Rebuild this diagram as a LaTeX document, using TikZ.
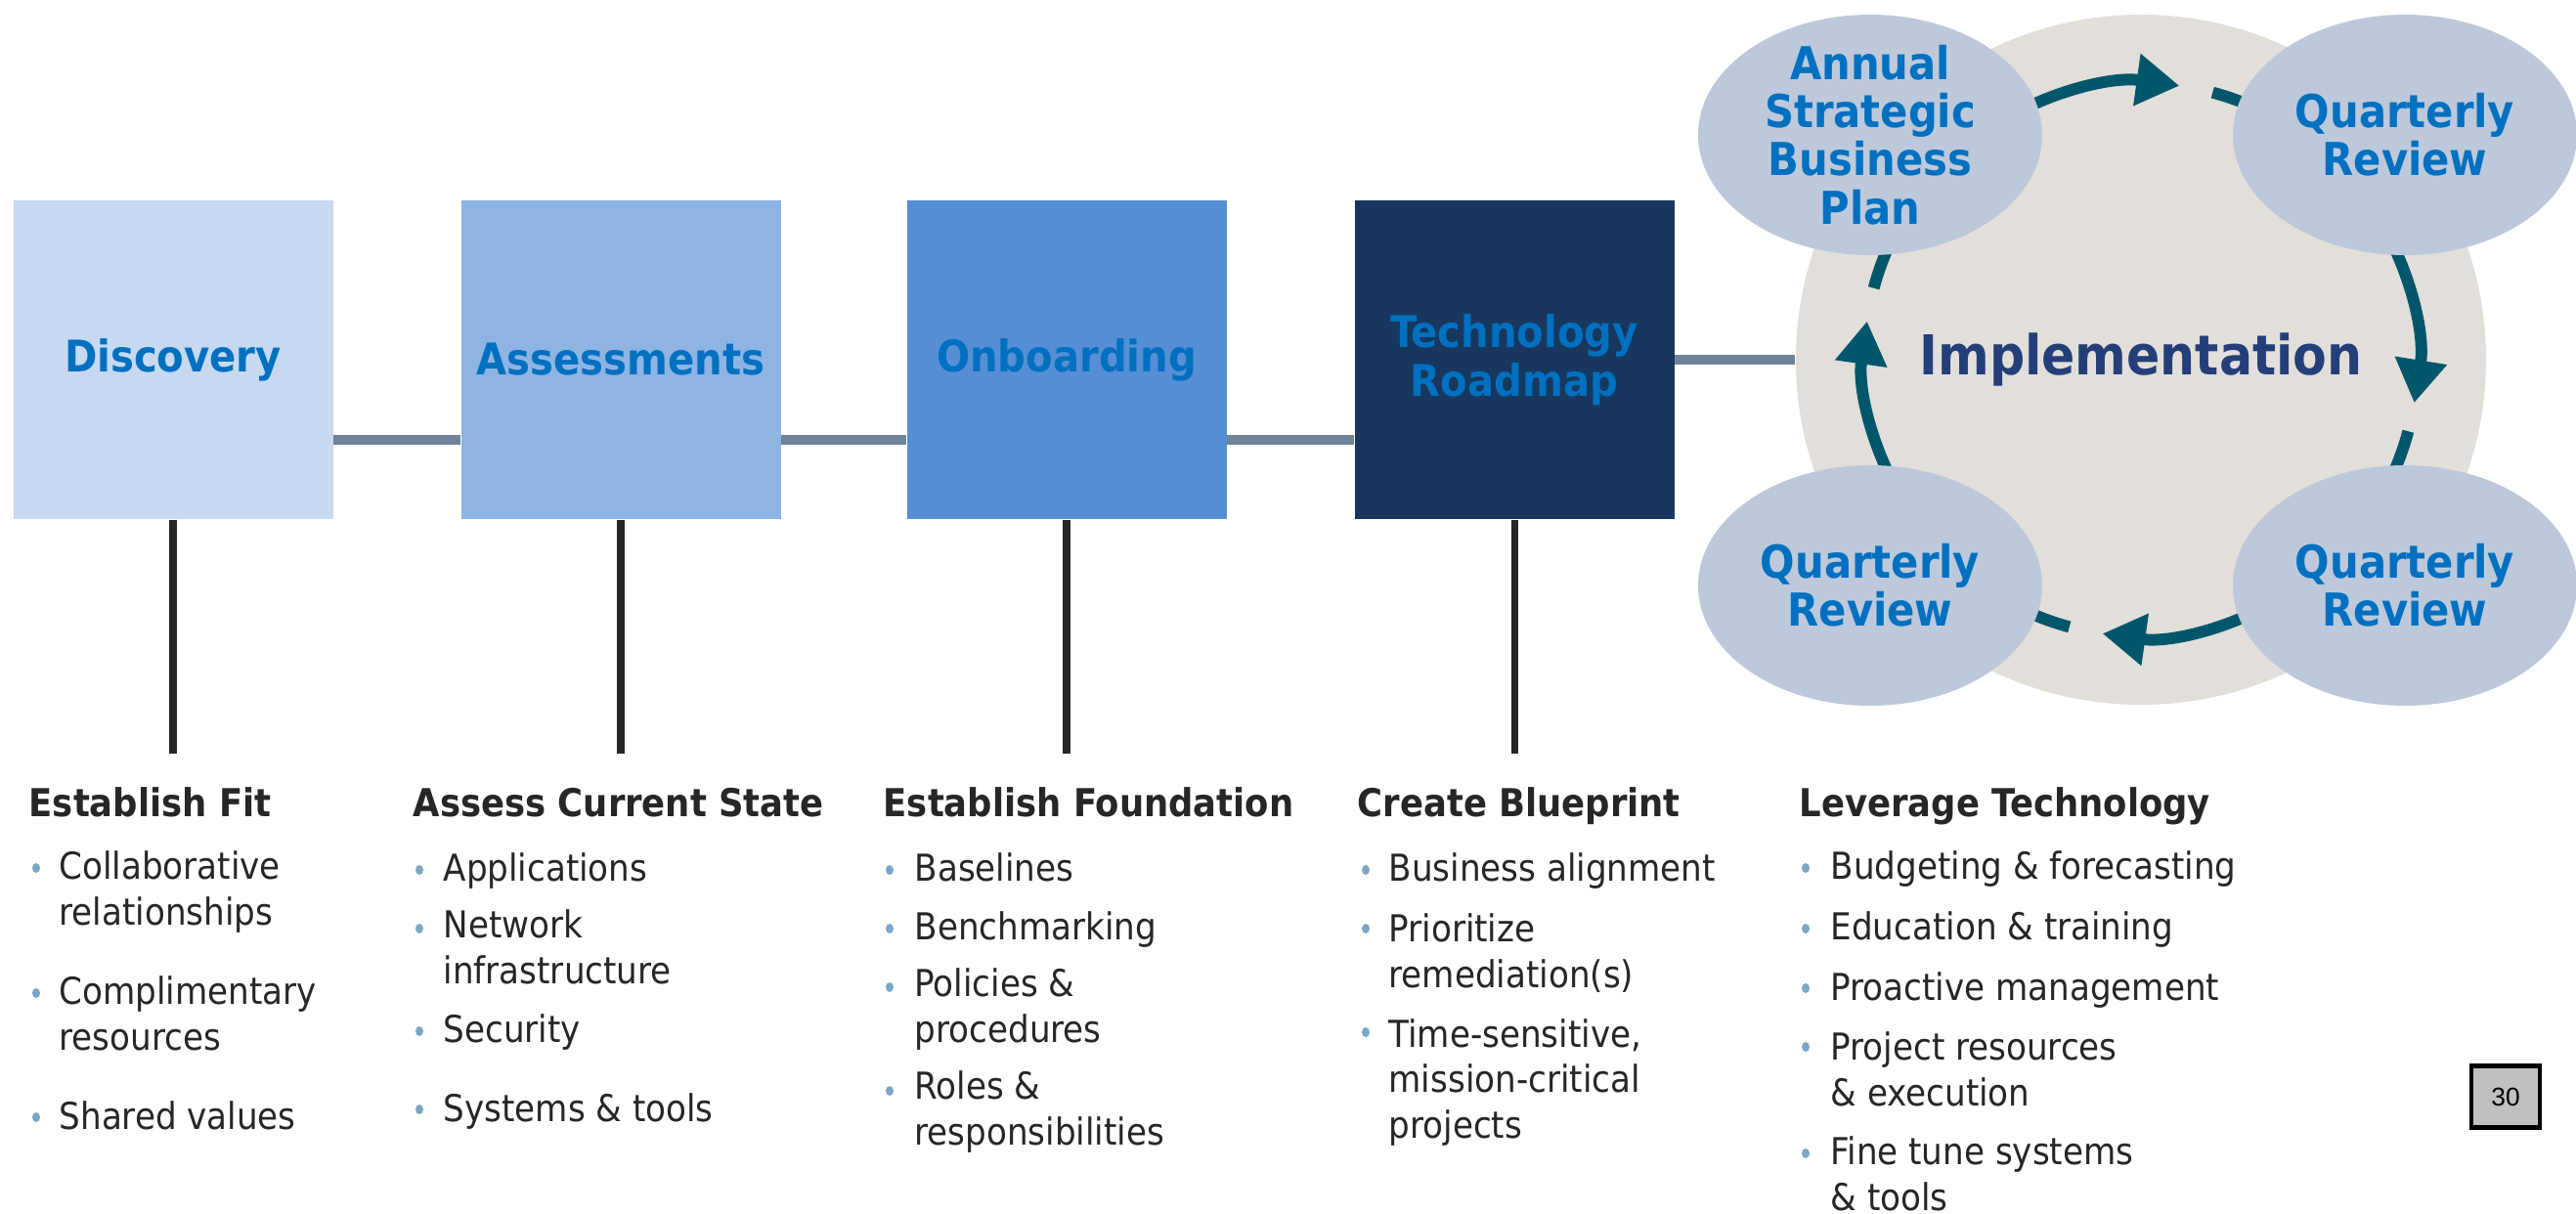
\documentclass[tikz,border=0pt]{standalone}
\usepackage{fontspec}
\setmainfont{DejaVu Sans Condensed}
\newfontfamily\pagefont{Liberation Sans}
\usepackage{tikz}
\usepackage{xcolor}
\usetikzlibrary{shapes.geometric,calc,arrows.meta}
\definecolor{disc1}{HTML}{C6D9F1}
\definecolor{asse1}{HTML}{8EB4E3}
\definecolor{onbo1}{HTML}{558ED5}
\definecolor{tech1}{HTML}{17375E}
\definecolor{label1}{HTML}{0070C0}
\definecolor{link1}{HTML}{6F849B}
\definecolor{ring1}{HTML}{E2DFDA}
\definecolor{oval1}{HTML}{BDC9DB}
\definecolor{cycle1}{HTML}{00576B}
\definecolor{impl1}{HTML}{243F78}
\definecolor{text1}{HTML}{262626}
\definecolor{dot1}{HTML}{7BA7C4}
\definecolor{page1}{HTML}{C0C0C0}

\tikzset{
stage/.style={rectangle,minimum width=3.27cm,minimum height=3.26cm,inner sep=0pt,align=center,text=label1,font=\bfseries\fontsize{12.7}{14.3}\selectfont},
oval/.style={ellipse,fill=oval1,minimum width=3.52cm,minimum height=2.46cm,inner sep=-3mm,align=center,text=label1,font=\bfseries\fontsize{13.2}{14}\selectfont},
link/.style={line width=3pt,color=link1},
stem/.style={line width=2pt,color=black!85},
turn/.style={line width=3.4pt,color=cycle1},
head/.style={anchor=base west,inner sep=0pt,text=text1,font=\bfseries\fontsize{11.2}{13}\selectfont},
entry/.style={anchor=base west,inner sep=0pt,align=left,text=text1,font=\fontsize{10.8}{13.1}\selectfont}
}

\begin{document}
\begin{tikzpicture}
\useasboundingbox (0,0) rectangle (26.35,-12.42);

\node[stage,fill=disc1] (disc) at (1.77,-3.68) {Discovery};
\node[stage,fill=asse1] (asse) at (6.35,-3.68) {Assessments};
\node[stage,fill=onbo1] (onbo) at (10.91,-3.68) {Onboarding};
\node[stage,fill=tech1] (tech) at (15.49,-3.68) {Technology\\Roadmap};

\draw[link] ([yshift=-8.2mm]disc.east) -- ([yshift=-8.2mm]asse.west);
\draw[link] ([yshift=-8.2mm]asse.east) -- ([yshift=-8.2mm]onbo.west);
\draw[link] ([yshift=-8.2mm]onbo.east) -- ([yshift=-8.2mm]tech.west);

\draw[stem] (disc.south) -- ++(0,-2.39);
\draw[stem] (asse.south) -- ++(0,-2.39);
\draw[stem] (onbo.south) -- ++(0,-2.39);
\draw[stem] (tech.south) -- ++(0,-2.39);

% implementation cycle
\node[circle,fill=ring1,minimum size=7.06cm,inner sep=0pt,text=impl1,font=\bfseries\fontsize{16}{18}\selectfont] (impl) at (21.90,-3.68) {Implementation};
\draw[link] (tech.east) -- (impl.west);

\draw[turn,-{Triangle[length=4.4mm,width=5.1mm]}] ($(impl.center)+(125:2.83)$) arc (125:82:2.83);
\draw[turn] ($(impl.center)+(75:2.83)$) arc (75:60:2.83);
\draw[turn,-{Triangle[length=4.4mm,width=5.1mm]}] ($(impl.center)+(35:2.83)$) arc (35:-9:2.83);
\draw[turn] ($(impl.center)+(-15:2.83)$) arc (-15:-30:2.83);
\draw[turn,-{Triangle[length=4.4mm,width=5.1mm]}] ($(impl.center)+(-55:2.83)$) arc (-55:-98:2.83);
\draw[turn] ($(impl.center)+(-105:2.83)$) arc (-105:-120:2.83);
\draw[turn,-{Triangle[length=4.4mm,width=5.1mm]}] ($(impl.center)+(215:2.83)$) arc (215:172:2.83);
\draw[turn] ($(impl.center)+(165:2.83)$) arc (165:150:2.83);

\node[oval] (plan) at (19.13,-1.38) {Annual\\Strategic\\Business\\Plan};
\node[oval] (qr1) at (24.60,-1.38) {Quarterly\\Review};
\node[oval] (qr2) at (24.60,-5.99) {Quarterly\\Review};
\node[oval] (qr3) at (19.13,-5.99) {Quarterly\\Review};

% lists (multi-line entries sit on their last baseline)
\node[head] (fit) at (0.29,-8.36) {Establish Fit};
\node[entry] (fit1) at (0.60,-9.46) {Collaborative\\relationships};
\node[entry] (fit2) at (0.60,-10.74) {Complimentary\\resources};
\node[entry] (fit3) at (0.60,-11.55) {Shared values};
\fill[dot1] (0.37,-8.88) ellipse (0.04 and 0.05);
\fill[dot1] (0.37,-10.16) ellipse (0.04 and 0.05);
\fill[dot1] (0.37,-11.43) ellipse (0.04 and 0.05);

\node[head] (state) at (4.22,-8.36) {Assess Current State};
\node[entry] (state1) at (4.53,-9.02) {Applications};
\node[entry] (state2) at (4.53,-10.06) {Network\\infrastructure};
\node[entry] (state3) at (4.53,-10.67) {Security};
\node[entry] (state4) at (4.53,-11.47) {Systems \& tools};
\fill[dot1] (4.29,-8.90) ellipse (0.04 and 0.05);
\fill[dot1] (4.29,-9.50) ellipse (0.04 and 0.05);
\fill[dot1] (4.29,-10.55) ellipse (0.04 and 0.05);
\fill[dot1] (4.29,-11.35) ellipse (0.04 and 0.05);

\node[head] (found) at (9.03,-8.36) {Establish Foundation};
\node[entry] (found1) at (9.35,-9.02) {Baselines};
\node[entry] (found2) at (9.35,-9.62) {Benchmarking};
\node[entry] (found3) at (9.35,-10.66) {Policies \&\\procedures};
\node[entry] (found4) at (9.35,-11.71) {Roles \&\\responsibilities};
\fill[dot1] (9.10,-8.90) ellipse (0.04 and 0.05);
\fill[dot1] (9.10,-9.50) ellipse (0.04 and 0.05);
\fill[dot1] (9.10,-10.10) ellipse (0.04 and 0.05);
\fill[dot1] (9.10,-11.16) ellipse (0.04 and 0.05);

\node[head] (print) at (13.88,-8.36) {Create Blueprint};
\node[entry] (print1) at (14.20,-9.02) {Business alignment};
\node[entry] (print2) at (14.20,-10.10) {Prioritize\\remediation(s)};
\node[entry] (print3) at (14.20,-11.64) {Time-sensitive,\\mission-critical\\projects};
\fill[dot1] (13.97,-8.90) ellipse (0.04 and 0.05);
\fill[dot1] (13.97,-9.50) ellipse (0.04 and 0.05);
\fill[dot1] (13.97,-10.56) ellipse (0.04 and 0.05);

\node[head] (lever) at (18.40,-8.36) {Leverage Technology};
\node[entry] (lever1) at (18.72,-9.00) {Budgeting \& forecasting};
\node[entry] (lever2) at (18.72,-9.62) {Education \& training};
\node[entry] (lever3) at (18.72,-10.23) {Proactive management};
\node[entry] (lever4) at (18.72,-11.31) {Project resources\\\& execution};
\node[entry] (lever5) at (18.72,-12.38) {Fine tune systems\\\& tools};
\fill[dot1] (18.47,-8.88) ellipse (0.04 and 0.05);
\fill[dot1] (18.47,-9.50) ellipse (0.04 and 0.05);
\fill[dot1] (18.47,-10.11) ellipse (0.04 and 0.05);
\fill[dot1] (18.47,-10.71) ellipse (0.04 and 0.05);
\fill[dot1] (18.47,-11.80) ellipse (0.04 and 0.05);

\node[draw=black,line width=1.2pt,fill=page1,minimum width=0.70cm,minimum height=0.63cm,inner sep=0pt,font=\pagefont\fontsize{7.5}{9}\selectfont] (page) at (25.63,-11.22) {30};

\end{tikzpicture}
\end{document}
